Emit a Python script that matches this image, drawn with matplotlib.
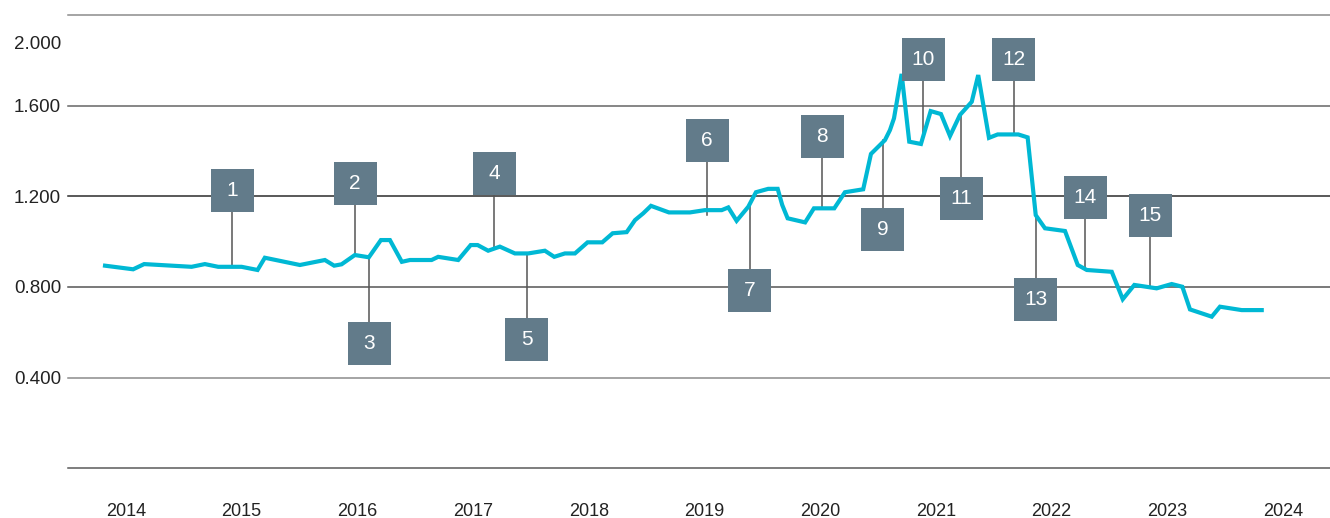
import matplotlib
matplotlib.use("Agg")
from matplotlib import pyplot as plt
from matplotlib.patches import Rectangle

plt.rcParams['font.family'] = ['Liberation Sans', 'DejaVu Sans']

# price series, decimal year vs value
t_vals = [2014.32, 2014.563, 2014.658, 2015.068, 2015.183, 2015.298, 2015.5, 2015.638, 2015.701,
          2016.004, 2016.22, 2016.30, 2016.364, 2016.479, 2016.60, 2016.704, 2016.782, 2016.885,
          2016.955, 2017.142, 2017.199, 2017.372, 2017.48, 2017.54, 2017.631, 2017.732, 2017.862,
          2017.977, 2018.121, 2018.202, 2018.294, 2018.381, 2018.49, 2018.617, 2018.707, 2018.828,
          2018.90, 2018.971, 2019.038, 2019.193, 2019.375, 2019.504, 2019.649, 2019.706, 2019.778,
          2019.879, 2019.945, 2020.051, 2020.133, 2020.172, 2020.219, 2020.37, 2020.446, 2020.622,
          2020.714, 2020.872, 2020.939, 2021.06, 2021.103, 2021.138, 2021.204, 2021.27, 2021.371,
          2021.455, 2021.544, 2021.622, 2021.708, 2021.81, 2021.866, 2021.959, 2022.034, 2022.212,
          2022.293, 2022.363, 2022.443, 2022.616, 2022.726, 2022.804, 2023.02, 2023.115, 2023.215,
          2023.408, 2023.538, 2023.63, 2023.696, 2023.884, 2023.955, 2024.143, 2024.316]
values = [894, 878, 901, 889, 901, 889, 889, 875, 929,
          897, 919, 894, 900, 941, 931, 1007, 1007, 911,
          919, 919, 933, 919, 985, 985, 960, 978, 948,
          948, 960, 933, 948, 948, 997, 997, 1037, 1042,
          1095, 1125, 1158, 1129, 1129, 1139, 1139, 1151, 1092,
          1154, 1218, 1233, 1233, 1162, 1103, 1085, 1147, 1147,
          1218, 1231, 1387, 1448, 1492, 1544, 1740, 1441, 1431,
          1576, 1563, 1466, 1559, 1617, 1735, 1458, 1473, 1473,
          1460, 1117, 1059, 1047, 897, 875, 867, 746, 809,
          794, 813, 801, 701, 669, 713, 698, 698]

# numbered markers: stem position, box centre value, value where the stem touches the line
note_labels = [str(i) for i in range(1, 16)]
note_t = [2015.419, 2016.482, 2016.603, 2017.683, 2017.963, 2019.524, 2019.890, 2020.516,
          2021.040, 2021.391, 2021.719, 2022.172, 2022.362, 2022.791, 2023.351]
note_box = [1226, 1256, 551, 1301, 568, 1446, 784, 1464, 1054, 1804, 1190, 1804, 745, 1195, 1115]
note_end = [892, 941, 932, 976, 945, 1118, 1157, 1153, 1448, 1479, 1562, 1479, 1108, 874, 804]

years = list(range(2014, 2025))
ytick_vals = [400, 800, 1200, 1600, 1880]
ytick_labels = ['0.400', '0.800', '1.200', '1.600', '2.000']
grid_vals = [0, 400, 800, 1200, 1600, 2000]
grid_colors = ['#5a5a5a', '#8c8c8c', '#555555', '#2b2b2b', '#666666', '#8c8c8c']

fig = plt.figure(figsize=(13.3, 5.18), dpi=100)
ax = fig.add_axes([68 / 1330, (518 - 468.3) / 518, 1 - 68 / 1330, (468.3 - 15) / 518])
ax.set_xlim(2014.0, 2024.906)
ax.set_ylim(0, 2000)
for s in ax.spines.values():
    s.set_visible(False)

for g, c in zip(grid_vals, grid_colors):
    ax.axhline(g, color=c, lw=1.1, zorder=1, clip_on=False)

ax.set_xticks([y + 0.5 for y in years])
ax.set_xticklabels([str(y) for y in years])
ax.set_yticks(ytick_vals)
ax.set_yticklabels(ytick_labels)
ax.tick_params(axis='x', length=0, pad=25, labelsize=13, colors='#222222')
ax.tick_params(axis='y', length=0, pad=5, labelsize=13.5, colors='#222222')

# stems
for t, b, e in zip(note_t, note_box, note_end):
    ax.plot([t, t], [b, e], color='#555555', lw=1.1, zorder=2)

ax.plot(t_vals, values, color='#00b8d4', lw=3.0, zorder=3, solid_joinstyle='miter')

box_w = 43 / 115.7
box_h = 43 * 4.4117
for lab, t, b in zip(note_labels, note_t, note_box):
    ax.add_patch(Rectangle((t - box_w / 2, b - box_h / 2), box_w, box_h,
                           facecolor='#627b8a', edgecolor='none', zorder=4))
    ax.text(t, b, lab, color='white', fontsize=15, ha='center', va='center', zorder=5)

fig.savefig('out.png', dpi=100)
